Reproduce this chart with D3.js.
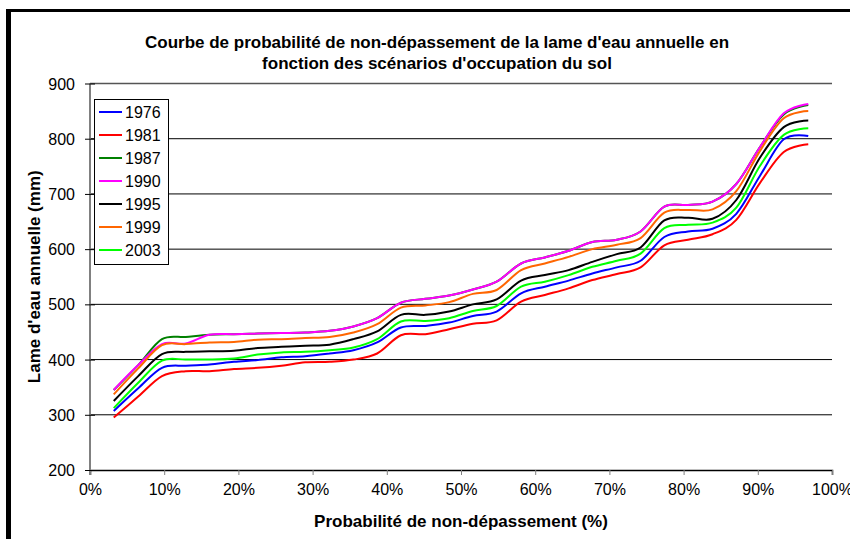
<!DOCTYPE html>
<html>
<head>
<meta charset="utf-8">
<script src="https://cdn.jsdelivr.net/npm/d3@7"></script>
<style>
  body { margin: 0; background: #fff; }
  svg { display: block; font-family: "Liberation Sans", Arial, sans-serif; }
</style>
</head>
<body>
<div id="chart"></div>
<script>
// probabilite de non-depassement (%) - positions de tracage
var probs = [3.2, 6.5, 9.7, 12.9, 16.1, 19.4, 22.6, 25.8, 29.0, 32.3, 35.5, 38.7, 41.9, 45.2, 48.4,
             51.6, 54.8, 58.1, 61.3, 64.5, 67.7, 71.0, 74.2, 77.4, 80.6, 83.9, 87.1, 90.3, 93.5, 96.8];

var years = ["1976", "1981", "1987", "1990", "1995", "1999", "2003"];
var colors = ["#0000ff", "#ff0000", "#008000", "#ff00ff", "#000000", "#ff6600", "#00ff00"];

var s1976 = [307, 348, 385, 389, 391, 396, 399, 404, 406, 411, 417, 431, 458, 461, 467, 479, 487, 520, 532, 543, 556, 567, 579, 622, 632, 637, 664, 733, 799, 805];
var s1981 = [295, 333, 370, 379, 379, 383, 385, 389, 395, 396, 400, 411, 444, 446, 455, 465, 471, 505, 517, 529, 544, 555, 567, 607, 617, 627, 653, 720, 776, 790];
var s1987 = [345, 390, 437, 441, 445, 446, 447, 448, 449, 452, 460, 475, 503, 510, 516, 527, 541, 574, 585, 597, 613, 617, 632, 677, 680, 686, 718, 785, 844, 861];
var s1990 = [345, 390, 428, 429, 445, 446, 447, 448, 449, 452, 460, 475, 503, 510, 516, 527, 541, 574, 585, 597, 613, 617, 632, 677, 680, 686, 718, 785, 846, 863];
var s1995 = [325, 370, 410, 414, 415, 416, 421, 423, 425, 427, 437, 451, 481, 481, 487, 500, 509, 543, 553, 562, 577, 591, 603, 652, 657, 655, 689, 766, 821, 833];
var s1999 = [337, 384, 426, 428, 431, 432, 436, 437, 439, 441, 449, 464, 494, 498, 504, 519, 526, 562, 574, 586, 600, 608, 620, 666, 671, 672, 705, 778, 837, 850];
var s2003 = [312, 358, 398, 400, 400, 402, 409, 413, 414, 417, 422, 437, 469, 470, 475, 488, 497, 532, 541, 553, 568, 579, 592, 638, 644, 648, 675, 751, 807, 819];

var yTicks = [200, 300, 400, 500, 600, 700, 800, 900];
var xTicks = [0, 10, 20, 30, 40, 50, 60, 70, 80, 90, 100];

var series = [s1976, s1981, s1987, s1990, s1995, s1999, s2003];

var width = 850, height = 539;
var margin = {top: 83.5, right: 18, bottom: 69, left: 90};

var svg = d3.select("#chart").append("svg")
    .attr("width", width)
    .attr("height", height);

svg.append("rect").attr("width", width).attr("height", height).attr("fill", "#fff");

// cadre noir (coupe a droite et en bas)
svg.append("rect").attr("x", 6).attr("y", 9).attr("width", 5).attr("height", height).attr("fill", "#000");
svg.append("rect").attr("x", 6).attr("y", 9).attr("width", width).attr("height", 3).attr("fill", "#000");

var x = d3.scaleLinear().domain([0, 100]).range([margin.left, width - margin.right]);
var y = d3.scaleLinear().domain([200, 900]).range([height - margin.bottom, margin.top]);

// titre
var title = svg.append("text")
    .attr("text-anchor", "middle")
    .attr("font-weight", "bold")
    .attr("font-size", 17)
    .attr("fill", "#000");
title.append("tspan").attr("x", 437).attr("y", 48)
    .text("Courbe de probabilité de non-dépassement de la lame d'eau annuelle en");
title.append("tspan").attr("x", 437).attr("y", 69)
    .text("fonction des scénarios d'occupation du sol");

// grille
svg.append("g")
  .selectAll("line")
  .data(yTicks.filter(function(d) { return d > 200; }))
  .enter().append("line")
    .attr("x1", x(0)).attr("x2", x(100))
    .attr("y1", function(d) { return y(d); })
    .attr("y2", function(d) { return y(d); })
    .attr("stroke", function(d) { return d == 900 ? "#555" : "#000"; })
    .attr("stroke-width", function(d) { return d == 900 ? 1.5 : 1; });

// axe X
var xAxis = svg.append("g")
    .attr("transform", "translate(0," + y(200) + ")")
    .call(d3.axisBottom(x).tickValues(xTicks).tickSize(5).tickPadding(9)
      .tickFormat(function(d) { return d + "%"; }));
xAxis.select(".domain").attr("stroke", "#000").attr("stroke-width", 1.5);
xAxis.selectAll(".tick line").attr("stroke", "#808080");
xAxis.selectAll("text").attr("font-size", 16).attr("font-family", "Liberation Sans, Arial, sans-serif").attr("fill", "#000");

// axe Y
var yAxis = svg.append("g")
    .attr("transform", "translate(" + x(0) + ",0)")
    .call(d3.axisLeft(y).tickValues(yTicks).tickSize(5).tickPadding(10));
yAxis.select(".domain").attr("stroke", "#808080").attr("stroke-width", 2).attr("d", "M0," + y(900) + "V" + (y(200) + 5));
yAxis.selectAll(".tick line").attr("x1", 5).attr("stroke", "#000");
yAxis.selectAll("text").attr("font-size", 16).attr("font-family", "Liberation Sans, Arial, sans-serif").attr("fill", "#000").attr("dy", "0.35em");

// titres des axes
svg.append("text")
    .attr("transform", "translate(40," + y(550) + ") rotate(-90)")
    .attr("text-anchor", "middle")
    .attr("font-weight", "bold")
    .attr("font-size", 17)
    .text("Lame d'eau annuelle (mm)");

svg.append("text")
    .attr("x", 461).attr("y", 527)
    .attr("text-anchor", "middle")
    .attr("font-weight", "bold")
    .attr("font-size", 17)
    .text("Probabilité de non-dépassement (%)");

// courbes lissees
var line = d3.line()
    .x(function(d, i) { return x(probs[i]); })
    .y(function(d) { return y(d); })
    .curve(d3.curveCatmullRom.alpha(0));

svg.append("g")
  .selectAll("path")
  .data(series)
  .enter().append("path")
    .attr("d", line)
    .attr("fill", "none")
    .attr("stroke", function(d, i) { return colors[i]; })
    .attr("stroke-width", 2);

// legende
var legend = svg.append("g").attr("transform", "translate(94,99)");
legend.append("rect")
    .attr("x", 0.5).attr("y", 0.5)
    .attr("width", 74).attr("height", 165)
    .attr("fill", "#fff")
    .attr("stroke", "#000")
    .attr("stroke-width", 1);

var items = legend.selectAll(".item")
    .data(years)
  .enter().append("g")
    .attr("class", "item")
    .attr("transform", function(d, i) { return "translate(0," + (13 + i * 23) + ")"; });

items.append("line")
    .attr("x1", 5).attr("x2", 28)
    .attr("stroke", function(d, i) { return colors[i]; })
    .attr("stroke-width", 2);

items.append("text")
    .attr("x", 31).attr("dy", "0.36em")
    .attr("font-size", 16)
    .text(function(d) { return d; });
</script>
</body>
</html>
